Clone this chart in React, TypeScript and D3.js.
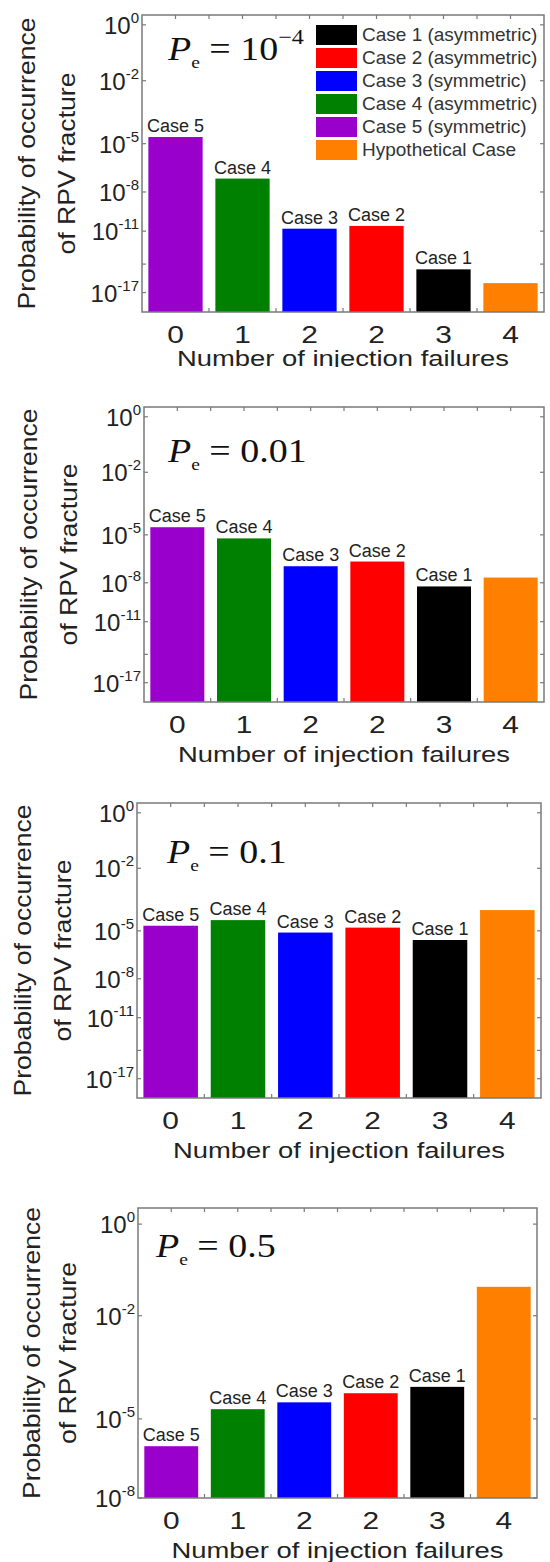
import React from "react";
import * as d3 from "d3";

// bar order: Case 5, Case 4, Case 3, Case 2, Case 1, Hypothetical
const caseNames = ["Case 5", "Case 4", "Case 3", "Case 2", "Case 1", ""];
const failureLabels = ["0", "1", "2", "2", "3", "4"];
const barColors = ["#9900cc", "#008000", "#0000ff", "#ff0000", "#000000", "#ff8000"];

const legendNames = [
  "Case 1 (asymmetric)",
  "Case 2 (asymmetric)",
  "Case 3 (symmetric)",
  "Case 4 (asymmetric)",
  "Case 5 (symmetric)",
  "Hypothetical Case",
];
const legendColors = ["#000000", "#ff0000", "#0000ff", "#008000", "#9900cc", "#ff8000"];

const pe1e4Values = [2.3e-5, 8e-8, 1.6e-11, 2.7e-11, 3e-15, 1.1e-16];
const pe001Values = [2.6e-5, 6.3e-6, 1.3e-7, 2.6e-7, 5.5e-9, 2.3e-8];
const pe01Values = [1.9e-5, 3.8e-5, 8e-6, 1.5e-5, 3e-6, 1.25e-4];
const pe05Values = [1.1e-6, 2.1e-5, 3.5e-5, 6.8e-5, 1.07e-4, 0.049];

const peMain = ["10", "0.01", "0.1", "0.5"];
const peExp = ["\u22124", "", "", ""];

const longTicks = [1, 1e-2, 1e-5, 1e-8, 1e-11, 1e-14, 1e-17];
const longTickExps = ["0", "-2", "-5", "-8", "-11", "", "-17"];
const shortTicks = [1, 1e-2, 1e-5, 1e-8];
const shortTickExps = ["0", "-2", "-5", "-8"];

// the y axis is stretched: position follows log(6.5 - log10(p))
const OFFSET = 6.5;
const depth = (p: number) => OFFSET - Math.log10(p);

const W = 550;
const H = 1562;
const sans = "'Liberation Sans', Arial, sans-serif";
const serif = "'Liberation Serif', 'Times New Roman', serif";
const frameColor = "#7a7a7a";
const textColor = "#222";

const panels = [
  { values: pe1e4Values, pe: 0, ticks: longTicks, exps: longTickExps, top: 15, bottom: 312, left: 142, right: 544,
    uMax: 19.3, legend: true, clip: 367, xLab: 54, yLab: [35, 75], peX: 168, peY: 60 },
  { values: pe001Values, pe: 1, ticks: longTicks, exps: longTickExps, top: 407, bottom: 702, left: 144, right: 544,
    uMax: 19.3, legend: false, clip: 800, xLab: 60, yLab: [37, 77], peX: 168, peY: 462 },
  { values: pe01Values, pe: 2, ticks: longTicks, exps: longTickExps, top: 803, bottom: 1098, left: 137, right: 541,
    uMax: 19.3, legend: false, clip: 1200, xLab: 60, yLab: [31, 71], peX: 167, peY: 863 },
  { values: pe05Values, pe: 3, ticks: shortTicks, exps: shortTickExps, top: 1208, bottom: 1498, left: 138, right: 537,
    uMax: 8, legend: false, clip: H, xLab: 60, yLab: [40, 76], peX: 156, peY: 1257 },
];

const Panel = ({ cfg, idx }: { cfg: (typeof panels)[number]; idx: number }) => {
  const x = d3
    .scaleBand<number>()
    .domain(d3.range(cfg.values.length))
    .range([cfg.left, cfg.right])
    .paddingInner(0.19)
    .paddingOuter(0.095);
  const y = d3
    .scaleLog()
    .domain([OFFSET - 0.3, OFFSET + cfg.uMax])
    .range([cfg.top, cfg.bottom]);
  const yp = (p: number) => y(depth(p));

  const step = x.step();
  const halfTicks = d3.range(1, 2 * cfg.values.length).map((k) => cfg.left + x.paddingOuter() * step - (step * x.paddingInner()) / 2 + (k * step) / 2);
  const midY = (cfg.top + cfg.bottom) / 2;
  const midX = (cfg.left + cfg.right) / 2;
  const tl = 4;

  return (
    <g clipPath={`url(#clip${idx})`}>
      <clipPath id={`clip${idx}`}>
        <rect x={0} y={0} width={W} height={cfg.clip} />
      </clipPath>

      {/* minor ticks along top and bottom */}
      {halfTicks.map((t, i) => (
        <g key={i} stroke={frameColor} strokeWidth={1.2}>
          <line x1={t} x2={t} y1={cfg.top} y2={cfg.top + tl} />
          <line x1={t} x2={t} y1={cfg.bottom} y2={cfg.bottom - tl} />
        </g>
      ))}
      {cfg.ticks.map((t, i) => (
        <g key={i} stroke={frameColor} strokeWidth={1.2}>
          <line x1={cfg.left} x2={cfg.left + tl} y1={yp(t)} y2={yp(t)} />
          <line x1={cfg.right} x2={cfg.right - tl} y1={yp(t)} y2={yp(t)} />
        </g>
      ))}

      {cfg.values.map((v, i) => (
        <g key={i}>
          <rect x={x(i)} y={yp(v)} width={x.bandwidth()} height={cfg.bottom - yp(v)} fill={barColors[i]} />
          {caseNames[i] && (
            <text x={x(i)! + x.bandwidth() / 2} y={yp(v) - 5} textAnchor="middle" fontFamily={sans} fontSize={18} fill={textColor}>
              {caseNames[i]}
            </text>
          )}
          <text
            transform={`translate(${x(i)! + x.bandwidth() / 2},${cfg.bottom + 31}) scale(1.3,1)`}
            textAnchor="middle"
            fontFamily={sans}
            fontSize={23}
            fill={textColor}
          >
            {failureLabels[i]}
          </text>
        </g>
      ))}

      <rect x={cfg.left} y={cfg.top} width={cfg.right - cfg.left} height={cfg.bottom - cfg.top} fill="none" stroke={frameColor} strokeWidth={1.5} />

      {/* y tick labels */}
      {cfg.ticks.map((t, i) =>
        cfg.exps[i] ? (
          <text key={i} x={cfg.left - 3} y={yp(t) + 9} textAnchor="end" fontFamily={sans} fill={textColor}>
            <tspan fontSize={24}>10</tspan>
            <tspan fontSize={15} dy={-11}>{cfg.exps[i]}</tspan>
          </text>
        ) : null
      )}

      {/* axis titles */}
      <text x={midX} y={cfg.bottom + cfg.xLab} textAnchor="middle" fontFamily={sans} fontSize={22} fill={textColor}
        textLength={332} lengthAdjust="spacingAndGlyphs">
        Number of injection failures
      </text>
      <text transform={`translate(${cfg.yLab[0]},${midY}) rotate(-90)`} textAnchor="middle" fontFamily={sans} fontSize={24}
        fill={textColor} textLength={292} lengthAdjust="spacingAndGlyphs">
        Probability of occurrence
      </text>
      <text transform={`translate(${cfg.yLab[1]},${midY}) rotate(-90)`} textAnchor="middle" fontFamily={sans} fontSize={24}
        fill={textColor} textLength={182} lengthAdjust="spacingAndGlyphs">
        of RPV fracture
      </text>

      {/* P_e annotation */}
      <text transform={`translate(${cfg.peX},${cfg.peY}) scale(1.15,1)`} fontFamily={serif} fill="#111">
        <tspan fontSize={33} fontStyle="italic">P</tspan>
        <tspan fontSize={17} dy={8}>e</tspan>
        <tspan fontSize={33} dy={-8}>{" = " + peMain[cfg.pe]}</tspan>
        {peExp[cfg.pe] && (
          <tspan fontSize={21} dy={-16}>{peExp[cfg.pe]}</tspan>
        )}
      </text>

      {cfg.legend &&
        legendNames.map((name, i) => (
          <g key={name} transform={`translate(316,${25 + i * 23})`}>
            <rect width={41} height={20} fill={legendColors[i]} />
            <text x={46} y={16} fontFamily={sans} fontSize={19} fill="#333">
              {name}
            </text>
          </g>
        ))}
    </g>
  );
};

export default function App() {
  return (
    <svg width={W} height={H} style={{ position: "absolute", left: 0, top: 0, background: "#fff" }}>
      <rect width={W} height={H} fill="#fff" />
      {panels.map((cfg, i) => (
        <Panel key={i} cfg={cfg} idx={i} />
      ))}
    </svg>
  );
}
